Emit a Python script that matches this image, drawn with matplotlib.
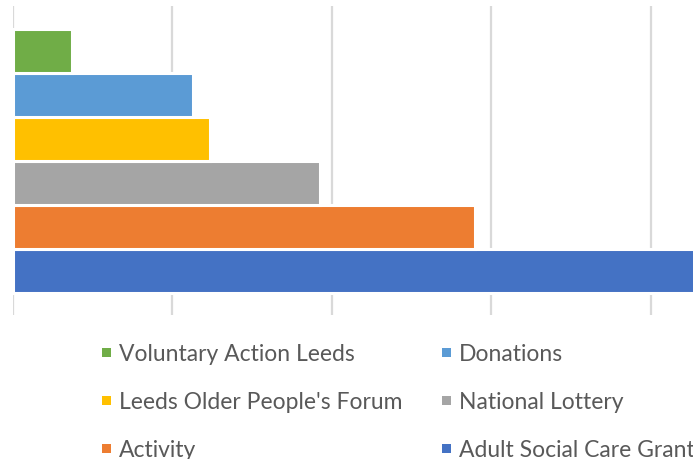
import matplotlib
matplotlib.use("Agg")
import matplotlib.pyplot as plt
from matplotlib.patches import Rectangle

# funding sources, bottom bar first
sources = ["Adult Social Care Grant", "Activity", "National Lottery",
           "Leeds Older People's Forum", "Donations", "Voluntary Action Leeds"]
amounts = [30000, 14470, 9610, 6190, 5630, 1840]
colours = ["#4472C4", "#ED7D31", "#A5A5A5", "#FFC000", "#5B9BD5", "#70AD47"]
grid_ticks = [0, 5000, 10000, 15000, 20000]

plt.rcParams['font.family'] = ['Lato', 'DejaVu Sans']

W, H = 693, 460
fig = plt.figure(figsize=(W / 100, H / 100), dpi=100)
ax = fig.add_axes([13 / W, 144 / H, 680 / W, 309 / H])

pos = list(range(len(sources)))
ax.barh(pos, amounts, height=1.0, color=colours, edgecolor="white",
        linewidth=2.2, zorder=2)

ax.set_xlim(0, 21317)
ax.set_ylim(-1.0, 6.023)
ax.set_xticks(grid_ticks)
ax.grid(axis="x", color="#D9D9D9", linewidth=1.6, zorder=0)
ax.tick_params(left=False, bottom=False, labelleft=False, labelbottom=False)
for s in ax.spines.values():
    s.set_visible(False)

# legend laid out by hand: two columns, three rows (top item first)
order = [5, 4, 3, 2, 1, 0]
col_x = [102, 442]
row_y = [353, 401, 449]
for k, i in enumerate(order):
    x = col_x[k % 2]
    y = row_y[k // 2]
    fig.patches.append(Rectangle((x / W, 1 - (y + 4.5) / H), 9 / W, 9 / H,
                                 transform=fig.transFigure,
                                 facecolor=colours[i], edgecolor="none"))
    fig.text((x + 17) / W, 1 - y / H, sources[i], fontsize=16.5,
             color="#595959", va="center_baseline", ha="left")

fig.savefig("out.png", dpi=100)
